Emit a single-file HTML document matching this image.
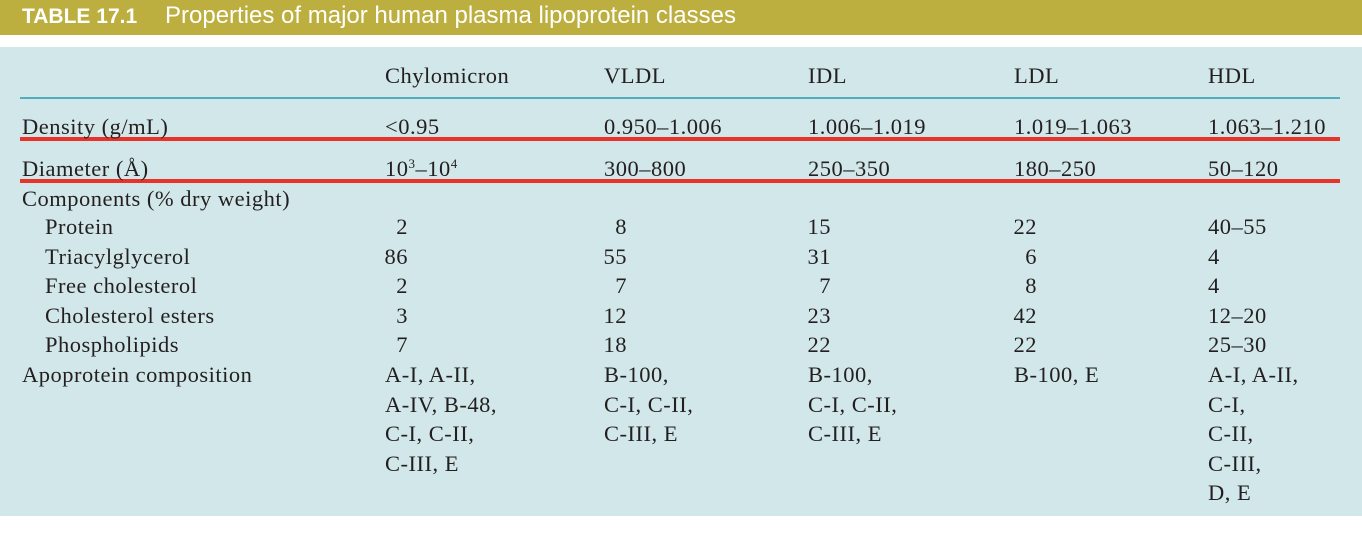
<!DOCTYPE html>
<html><head><meta charset="utf-8"><style>
body{margin:0;width:1362px;height:536px;background:#fff;position:relative;overflow:hidden;}
#hdr{position:absolute;left:0;top:0;width:1362px;height:35px;background:#bcaf3f;}
#hdr span{position:absolute;top:3px;color:#fff;font-family:"Liberation Sans",sans-serif;font-size:22px;line-height:28px;white-space:nowrap;}
#panel{position:absolute;left:0;top:47px;width:1362px;height:469px;background:#d2e7e9;}
.t{position:absolute;font-family:"Liberation Serif",serif;font-size:22.5px;line-height:26px;letter-spacing:0.5px;color:#231f20;white-space:nowrap;}
.rule{position:absolute;left:20px;width:1320px;}
sup{font-size:13px;line-height:0;vertical-align:8px;}
</style></head><body>
<div id="hdr">
<span style="left:22px;font-weight:bold;font-size:21px;">TABLE 17.1</span>
<span style="left:165px;font-size:24px;top:2px;">Properties of major human plasma lipoprotein classes</span>
</div>
<div id="panel"></div>
<div class="rule" style="top:97px;height:2px;background:#4fb0bb;"></div>
<div class="rule" style="top:137px;height:4px;background:#e8322a;"></div>
<div class="rule" style="top:179px;height:4px;background:#e8322a;"></div>
<div id="cells"></div>
<script>
const cols=[385,604,808,1014,1208];
const rights=[408,627,831,1037,null];
const heads=["Chylomicron","VLDL","IDL","LDL","HDL"];
const c=document.getElementById('cells');
function add(txt,x,y,cls,name,right){
  const d=document.createElement('div');
  d.className='t'+(cls?' '+cls:'');
  d.innerHTML=txt;
  d.style.top=(y-12)+'px';
  if(right){d.style.left=(x-100)+'px';d.style.width='100px';d.style.textAlign='right';}
  else d.style.left=x+'px';
  
  
  c.appendChild(d);
}
heads.forEach((h,i)=>add(h,cols[i],75,'','column-header-'+h.toLowerCase()));
add('Density (g/mL)',22,126,'','row-label-density');
["&lt;0.95","0.950–1.006","1.006–1.019","1.019–1.063","1.063–1.210"].forEach((v,i)=>add(v,cols[i],126,'','density-'+heads[i].toLowerCase()));
add('Diameter (Å)',22,168,'','row-label-diameter');
["10<sup>3</sup>–10<sup>4</sup>","300–800","250–350","180–250","50–120"].forEach((v,i)=>add(v,cols[i],168,'','diameter-'+heads[i].toLowerCase()));
add('Components (% dry weight)',22,198,'','row-label-components');
const comps=[["Protein",["2","8","15","22","40–55"]],["Triacylglycerol",["86","55","31","6","4"]],["Free cholesterol",["2","7","7","8","4"]],["Cholesterol esters",["3","12","23","42","12–20"]],["Phospholipids",["7","18","22","22","25–30"]]];
comps.forEach((r,j)=>{
  const y=226+j*29.5;
  const nm=r[0].toLowerCase().replace(/ /g,'-');
  add(r[0],45,y,'','row-label-'+nm);
  r[1].forEach((v,i)=>{
    if(i<4) add(v,rights[i],y,'','cell-'+nm+'-'+heads[i].toLowerCase(),true);
    else add(v,cols[i],y,'','cell-'+nm+'-hdl');
  });
});
add('Apoprotein composition',22,374,'','row-label-apoprotein');
const apo=[["A-I, A-II,","A-IV, B-48,","C-I, C-II,","C-III, E"],["B-100,","C-I, C-II,","C-III, E"],["B-100,","C-I, C-II,","C-III, E"],["B-100, E"],["A-I, A-II,","C-I,","C-II,","C-III,","D, E"]];
apo.forEach((lines,i)=>lines.forEach((l,k)=>add(l,cols[i],374+k*29.5,'','apoprotein-'+heads[i].toLowerCase()+'-line-'+(k+1))));
</script>
</body></html>
